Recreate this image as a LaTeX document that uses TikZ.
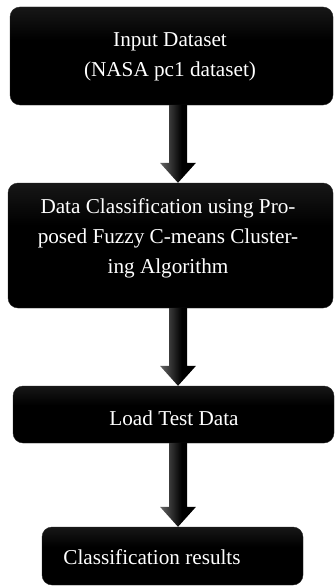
\documentclass[tikz,border=0pt]{standalone}
\usepackage{fontspec}
\setmainfont{Liberation Serif}
\usetikzlibrary{calc}
\pgfdeclareverticalshading{boxshade}{100bp}{color(0bp)=(black); color(58bp)=(black); color(100bp)=(black!78)}
\pgfdeclarehorizontalshading{arrowshade}{100bp}{color(0bp)=(black!60); color(25bp)=(black!60); color(55bp)=(black); color(100bp)=(black)}
\newcommand\flowarrow[2]{%
  \shade[shading=arrowshade]
    ($(#1.south -| ax)+(-9pt,0)$) -- ($(#2.north -| ax)+(-9pt,20pt)$)
    -- ($(#2.north -| ax)+(-18pt,20pt)$) -- (#2.north -| ax)
    -- ($(#2.north -| ax)+(18pt,20pt)$) -- ($(#2.north -| ax)+(9pt,20pt)$)
    -- ($(#1.south -| ax)+(9pt,0)$) -- cycle;}
\tikzset{
  flowbox/.style={rectangle, rounded corners=10pt, shading=boxshade, draw=black!85, line width=0.4pt,
    text=white, align=center, inner sep=0pt,
    font=\fontsize{21.2}{30}\selectfont},
  flowtext/.style={text=white, inner sep=0pt, font=\fontsize{21.2}{30}\selectfont}
}
\begin{document}
\begin{tikzpicture}[x=1pt,y=1pt]
\useasboundingbox (0,0) rectangle (336,-586);
\coordinate (ax) at (178,0);
\node[flowbox, minimum width=323pt, minimum height=98pt] (b1) at (171.5,-56) {};
\node[flowtext, align=center] (t1) at (170,-57)
  {Input Dataset\\(NASA pc1 dataset)};
\node[flowbox, minimum width=325pt, minimum height=125pt] (b2) at (170.5,-245.5) {};
\node[flowtext, align=center] (t2) at (168,-238)
  {Data Classification using Pro-\\posed Fuzzy C-means Cluster-\\ing Algorithm};
\node[flowbox, minimum width=321pt, minimum height=57pt] (b3) at (173.5,-414.5) {};
\node[flowtext] (t3) at (174,-418) {Load Test Data};
\node[flowbox, minimum width=261pt, minimum height=58pt] (b4) at (172.5,-556) {};
\node[flowtext] (t4) at (152,-557) {Classification results};
\flowarrow{b1}{b2}
\flowarrow{b2}{b3}
\flowarrow{b3}{b4}
\end{tikzpicture}
\end{document}
